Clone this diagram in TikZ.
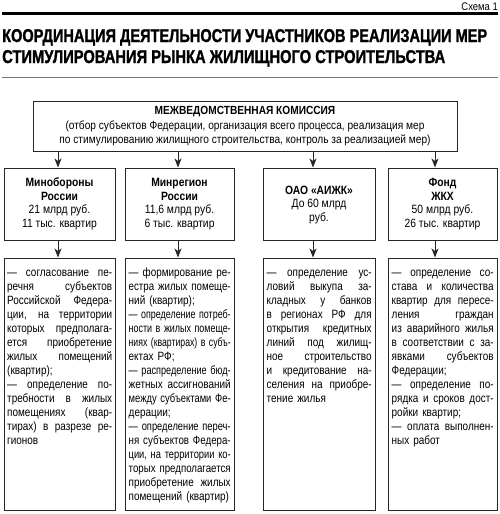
\documentclass[tikz,border=0pt]{standalone}
\usepackage{fontspec}
\usepackage{graphicx}
\setmainfont{Liberation Sans}[FakeStretch=0.86]
\newfontfamily\bodyfont{Liberation Sans}[FakeStretch=0.83]
\newfontfamily\titlefont{Liberation Sans}[FakeStretch=0.78, BoldFeatures={FakeBold=1.2}]
\usetikzlibrary{arrows.meta}
\newdimen\roww
\newbox\rowbox
\newcommand\jrow[1]{\setbox\rowbox=\hbox{#1}%
  \ifdim\wd\rowbox>\roww
    \hbox{\resizebox{\roww}{\height}{\box\rowbox}}%
  \else
    \hbox to \roww{\spaceskip=.26em plus 1fil minus .1em #1}%
  \fi}
\newcommand\lrow[1]{\hbox to \roww{#1\hfil}}
\begin{document}
\begin{tikzpicture}[x=1pt,y=-1pt,
  box/.style={draw=black!85, line width=1pt, inner sep=0pt},
  arr/.style={draw=black!85, line width=0.9pt, -{Stealth[length=9pt,width=7pt,inset=2.5pt]}},
  body/.style={anchor=base west, inner sep=0pt, text width=#1, font=\bodyfont\fontsize{12}{14}\selectfont},
  hdr/.style={align=center, inner sep=0pt, font=\fontsize{12}{13.5}\selectfont},
  rule/.style={draw=black}
]
\useasboundingbox[fill=white] (0,0) rectangle (500,514);

% header
\node[anchor=base east, inner sep=0pt, font=\fontsize{11}{12}\selectfont] (schema) at (498,10) {Схема 1};
\coordinate (r1a) at (2,13.5);
\coordinate (r1b) at (498,13.5);
\draw[rule, line width=3pt] (r1a) -- (r1b);
\node[anchor=base west, inner sep=0pt, font=\titlefont\bfseries\fontsize{18.5}{21}\selectfont] (t1) at (2,42) {\resizebox{485pt}{\height}{КООРДИНАЦИЯ ДЕЯТЕЛЬНОСТИ УЧАСТНИКОВ РЕАЛИЗАЦИИ МЕР}};
\node[anchor=base west, inner sep=0pt, font=\titlefont\bfseries\fontsize{18.5}{21}\selectfont] (t2) at (2,63) {\resizebox{443pt}{\height}{СТИМУЛИРОВАНИЯ РЫНКА ЖИЛИЩНОГО СТРОИТЕЛЬСТВА}};
\coordinate (r2a) at (2,77.5);
\coordinate (r2b) at (498,77.5);
\draw[draw=black!55, line width=1pt] (r2a) -- (r2b);

% top box
\node[box, minimum width=424pt, minimum height=50pt] (top) at (245,126) {};
\node[align=center, inner sep=0pt, font=\fontsize{11.8}{14.5}\selectfont] (toptext) at (245,126.5)
  {\textbf{МЕЖВЕДОМСТВЕННАЯ КОМИССИЯ}\\(отбор субъектов Федерации, организация всего процесса, реализация мер\\по стимулированию жилищного строительства, контроль за реализацией мер)};

% second row
\node[box, minimum width=111pt, minimum height=72pt] (h1) at (59.5,204) {};
\node[box, minimum width=109pt, minimum height=72pt] (h2) at (179.5,204) {};
\node[box, minimum width=112pt, minimum height=72pt] (h3) at (319,204) {};
\node[box, minimum width=109pt, minimum height=72pt] (h4) at (442.5,204) {};
\node[hdr] (h1t) at (59.5,204) {\textbf{Минобороны}\\\textbf{России}\\21 млрд руб.\\11 тыс. квартир};
\node[hdr] (h2t) at (179.5,204) {\textbf{Минрегион}\\\textbf{России}\\11,6 млрд руб.\\6 тыс. квартир};
\node[hdr] (h3t) at (319,205) {\textbf{ОАО «АИЖК»}\\До 60 млрд\\руб.};
\node[hdr] (h4t) at (442.5,204) {\textbf{Фонд}\\\textbf{ЖКХ}\\50 млрд руб.\\26 тыс. квартир};

% third row
\node[box, minimum width=111pt, minimum height=252pt] (b1) at (59.5,384) {};
\node[box, minimum width=109pt, minimum height=252pt] (b2) at (179.5,384) {};
\node[box, minimum width=112pt, minimum height=252pt] (b3) at (319,384) {};
\node[box, minimum width=109pt, minimum height=252pt] (b4) at (442.5,384) {};

% arrow columns
\coordinate (c1) at (58,0);
\coordinate (c2) at (178,0);
\coordinate (c3) at (313,0);
\coordinate (c4) at (435,0);
\foreach \i in {1,2,3,4}{
  \draw[arr] (top.south -| c\i) -- (h\i.north -| c\i);
  \draw[arr] (h\i.south -| c\i) -- (b\i.north -| c\i);
}

\node[body=105pt] (b1t) at (7,276.5) {\roww=105pt\relax
\jrow{— согласование пе-}
\jrow{речня субъектов}
\jrow{Российской Федера-}
\jrow{ции, на территории}
\jrow{которых предполага-}
\jrow{ется приобретение}
\jrow{жилых помещений}
\lrow{(квартир);}
\jrow{— определение по-}
\jrow{требности в жилых}
\jrow{помещениях (квар-}
\jrow{тирах) в разрезе ре-}
\lrow{гионов}};

\node[body=102pt] (b2t) at (128.5,276.5) {\roww=102pt\relax
\jrow{— формирование ре-}
\jrow{естра жилых помеще-}
\lrow{ний (квартир);}
\jrow{— определение потреб-}
\jrow{ности в жилых помеще-}
\jrow{ниях (квартирах) в субъ-}
\lrow{ектах РФ;}
\jrow{— распределение бюд-}
\jrow{жетных ассигнований}
\jrow{между субъектами Фе-}
\lrow{дерации;}
\jrow{— определение переч-}
\jrow{ня субъектов Федера-}
\jrow{ции, на территории ко-}
\jrow{торых предполагается}
\jrow{приобретение жилых}
\lrow{помещений (квартир)}};

\node[body=105pt] (b3t) at (266.5,276.5) {\roww=105pt\relax
\jrow{— определение ус-}
\jrow{ловий выкупа за-}
\jrow{кладных у банков}
\jrow{в регионах РФ для}
\jrow{открытия кредитных}
\jrow{линий под жилищ-}
\jrow{ное строительство}
\jrow{и кредитование на-}
\jrow{селения на приобре-}
\lrow{тение жилья}};

\node[body=102pt] (b4t) at (391.5,276.5) {\roww=102pt\relax
\jrow{— определение со-}
\jrow{става и количества}
\jrow{квартир для пересе-}
\jrow{ления граждан}
\jrow{из аварийного жилья}
\jrow{в соответствии с за-}
\jrow{явками субъектов}
\lrow{Федерации;}
\jrow{— определение по-}
\jrow{рядка и сроков дост-}
\lrow{ройки квартир;}
\jrow{— оплата выполнен-}
\lrow{ных работ}};
\end{tikzpicture}
\end{document}
